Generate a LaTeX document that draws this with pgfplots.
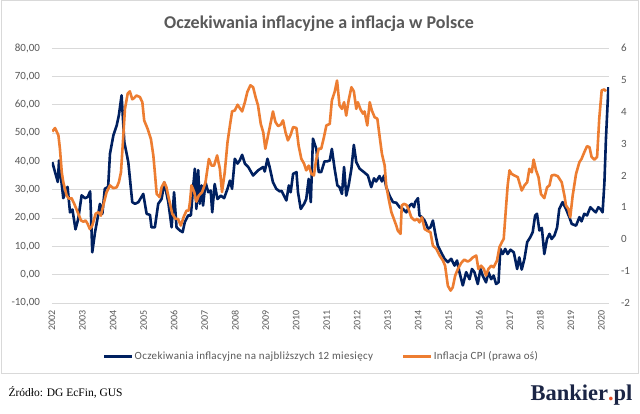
\documentclass[border=0pt]{standalone}
\usepackage{pgfplots}
\pgfplotsset{compat=1.18}
\usepackage{fontspec}
\setmainfont{Carlito}
\newfontfamily\timesf{Liberation Serif}
\newfontfamily\legfont[LetterSpace=3]{Carlito}
\definecolor{navyline}{HTML}{002060}
\definecolor{orangeline}{HTML}{ED7D31}
\definecolor{tickgray}{HTML}{595959}
\definecolor{gridgray}{HTML}{D9D9D9}
\definecolor{bankiernavy}{HTML}{1B2545}
\definecolor{bankierdot}{HTML}{E8502A}

\pgfplotstableread{
t v
2002.01 39.7
2002.19 32.7
2002.23 40.3
2002.37 27
2002.51 31
2002.59 22
2002.67 23
2002.77 16
2002.86 19.7
2002.97 28
2003.08 27
2003.17 27.4
2003.25 29.4
2003.32 7.9
2003.41 15
2003.49 19.7
2003.57 25
2003.65 21.5
2003.73 30.3
2003.84 31
2003.90 42.7
2004.01 49.1
2004.12 52.7
2004.19 56.2
2004.28 63.3
2004.37 46.8
2004.50 39.7
2004.63 25.6
2004.72 25
2004.83 25.6
2004.99 28.5
2005.10 21.5
2005.21 21.1
2005.26 16.7
2005.37 16.7
2005.48 25
2005.59 26.7
2005.68 32.6
2005.81 25.6
2005.92 16.7
2006.00 29.1
2006.08 16.7
2006.19 15.6
2006.28 15
2006.35 18.5
2006.46 20.9
2006.55 20.9
2006.63 31.5
2006.68 37.4
2006.73 23.2
2006.79 36.9
2006.84 25
2006.90 31.5
2006.95 24.4
2007.03 32.6
2007.12 29.1
2007.20 29.7
2007.25 22
2007.33 32
2007.42 26.7
2007.53 27.9
2007.64 27
2007.75 30.3
2007.83 33.2
2007.90 30.3
2007.99 40.9
2008.08 39.2
2008.15 40.3
2008.23 42.3
2008.32 39.2
2008.43 38
2008.59 35
2008.75 36.8
2008.92 38
2008.97 36.4
2009.06 40.9
2009.13 38
2009.24 32.6
2009.35 30.3
2009.46 29.4
2009.52 29.6
2009.68 26.2
2009.76 31.5
2009.82 29.1
2009.90 35.6
2010.01 36.2
2010.06 29.1
2010.15 23.2
2010.26 25
2010.33 26.7
2010.41 33.8
2010.48 25.6
2010.55 48
2010.66 44.4
2010.74 36.2
2010.82 36.2
2010.93 40
2011.02 40
2011.10 40.3
2011.17 44.4
2011.26 37.4
2011.35 31.5
2011.42 30.9
2011.50 28.5
2011.57 38
2011.64 27.9
2011.72 31.5
2011.81 37.4
2011.89 45.8
2011.97 39.7
2012.08 37.4
2012.22 36.2
2012.35 35
2012.46 30.9
2012.55 34
2012.62 32.9
2012.73 34.8
2012.81 32.9
2012.88 35
2012.95 30.9
2013.06 27.9
2013.17 25.6
2013.28 25.4
2013.39 23.8
2013.50 23.2
2013.61 22
2013.72 24.4
2013.79 25
2013.86 23.8
2013.90 25.6
2013.99 27
2014.04 20.9
2014.12 20.3
2014.21 19.1
2014.32 16.2
2014.40 16.7
2014.48 19.1
2014.57 13.8
2014.64 10.3
2014.75 7.9
2014.86 5.6
2014.97 4.4
2015.08 5.6
2015.19 3.2
2015.27 5
2015.35 0.9
2015.46 -3.8
2015.57 0.9
2015.68 -1.6
2015.76 2
2015.84 0.9
2015.95 -3.3
2016.04 2
2016.11 -0.3
2016.22 -2.7
2016.30 0.9
2016.39 -1.6
2016.47 -0.3
2016.55 -3.3
2016.63 -2.7
2016.69 9.1
2016.77 7.3
2016.85 9.1
2016.93 7.3
2017.02 8.8
2017.13 7.9
2017.24 2
2017.31 6.1
2017.39 1.8
2017.48 5.6
2017.57 11.5
2017.67 13.2
2017.75 15
2017.83 20.9
2017.89 21.5
2017.97 15.6
2018.05 16.5
2018.13 7.3
2018.22 12.6
2018.30 14.4
2018.37 12.6
2018.46 13.8
2018.55 16.7
2018.62 23.2
2018.73 25.6
2018.84 23.2
2018.95 20.3
2019.03 17.9
2019.17 17.3
2019.28 20.3
2019.35 18.8
2019.44 21.5
2019.53 20.9
2019.64 23.8
2019.75 22.6
2019.82 22
2019.90 23.8
2019.97 23.2
2020.04 22
2020.10 32.6
2020.15 48
2020.23 66.2
}\expectations

\pgfplotstableread{
t v
2002.01 3.38
2002.10 3.49
2002.21 3.26
2002.26 2.84
2002.32 2.1
2002.37 1.79
2002.48 1.37
2002.56 1.27
2002.64 1.29
2002.73 1.11
2002.84 0.85
2002.95 0.59
2003.03 0.55
2003.10 0.59
2003.17 0.48
2003.24 0.32
2003.32 0.43
2003.43 0.8
2003.52 0.85
2003.60 0.74
2003.68 1.06
2003.79 1.48
2003.90 1.69
2004.01 1.6
2004.12 1.63
2004.19 1.79
2004.26 2.1
2004.33 3.15
2004.39 4.09
2004.48 4.57
2004.55 4.64
2004.63 4.39
2004.69 4.43
2004.77 4.51
2004.88 4.46
2004.96 4.3
2005.02 3.73
2005.13 3.47
2005.24 3.15
2005.32 2.63
2005.37 2.1
2005.43 1.42
2005.53 1.32
2005.59 1.63
2005.68 1.79
2005.75 1.63
2005.83 1.27
2005.94 0.8
2006.05 0.64
2006.13 0.64
2006.22 0.43
2006.33 0.74
2006.41 0.9
2006.48 0.9
2006.52 1.16
2006.57 1.69
2006.66 1.48
2006.73 1.18
2006.81 1.37
2006.92 1.48
2007.03 1.79
2007.14 2.52
2007.23 2.31
2007.31 2.31
2007.41 2.63
2007.50 2.21
2007.57 1.48
2007.66 2.1
2007.75 3.04
2007.83 3.57
2007.90 4.01
2007.99 4.04
2008.08 4.22
2008.15 4.12
2008.23 4.01
2008.32 4.3
2008.40 4.62
2008.50 4.83
2008.59 4.77
2008.67 4.46
2008.75 4.2
2008.84 3.62
2008.92 3.36
2008.99 2.84
2009.08 3.26
2009.17 3.68
2009.24 4.01
2009.32 3.68
2009.41 3.55
2009.49 3.59
2009.57 3.73
2009.65 3.36
2009.73 3.1
2009.82 3.28
2009.90 3.52
2010.01 3.49
2010.08 2.94
2010.17 2.52
2010.26 2.37
2010.33 2.16
2010.41 2.31
2010.50 2.05
2010.58 2.0
2010.66 2.52
2010.74 2.84
2010.82 2.84
2010.91 3.2
2010.99 3.57
2011.10 3.62
2011.17 4.36
2011.26 4.62
2011.34 4.98
2011.42 4.2
2011.50 4.09
2011.57 4.3
2011.64 3.88
2011.72 4.36
2011.81 4.77
2011.89 4.64
2011.97 4.09
2012.02 4.3
2012.11 4.07
2012.19 3.94
2012.24 4.01
2012.33 3.57
2012.41 4.3
2012.48 4.04
2012.57 3.83
2012.66 3.78
2012.73 3.26
2012.81 2.68
2012.90 2.31
2012.95 1.69
2013.03 1.27
2013.12 0.85
2013.20 0.64
2013.28 0.43
2013.33 0.27
2013.42 0.17
2013.46 1.06
2013.53 1.11
2013.61 1.08
2013.68 0.95
2013.77 0.69
2013.88 0.59
2013.97 0.64
2014.04 0.53
2014.12 0.69
2014.21 0.32
2014.29 0.27
2014.40 0.22
2014.48 -0.2
2014.59 -0.3
2014.70 -0.51
2014.81 -0.67
2014.88 -0.83
2014.97 -1.46
2015.06 -1.61
2015.13 -1.51
2015.21 -1.14
2015.30 -0.93
2015.41 -0.74
2015.51 -0.64
2015.62 -0.7
2015.68 -0.67
2015.79 -0.57
2015.90 -0.51
2015.97 -0.93
2016.06 -0.83
2016.15 -0.93
2016.22 -1.14
2016.30 -0.93
2016.39 -0.83
2016.47 -0.88
2016.58 -0.67
2016.66 -0.25
2016.74 -0.09
2016.80 0.01
2016.88 1.06
2016.93 1.69
2016.99 2.16
2017.06 2.05
2017.15 2.0
2017.26 1.95
2017.39 1.53
2017.48 1.69
2017.57 1.79
2017.64 2.21
2017.72 2.1
2017.78 2.5
2017.86 2.16
2017.94 1.95
2018.02 1.42
2018.13 1.29
2018.22 1.63
2018.30 1.69
2018.37 2.0
2018.46 2.02
2018.57 1.98
2018.70 1.79
2018.79 1.37
2018.84 1.06
2018.92 0.95
2018.98 0.69
2019.06 1.37
2019.17 2.05
2019.28 2.42
2019.35 2.52
2019.44 2.73
2019.53 2.92
2019.61 2.89
2019.68 2.58
2019.77 2.5
2019.86 2.58
2019.93 3.78
2020.01 4.67
2020.10 4.7
2020.15 4.64
}\cpi

\begin{document}
\begin{tikzpicture}[x=1pt,y=1pt]
\useasboundingbox[fill=white] (0,0) rectangle (640,413);
\draw[gridgray, line width=1pt] (1,40) rectangle (638.5,412);

\node[anchor=base, font=\bfseries\fontsize{18}{21}\selectfont, text=tickgray] at (319,384) {Oczekiwania inflacyjne a inflacja w Polsce};

\begin{axis}[
  at={(52pt,110pt)}, anchor=south west, scale only axis,
  width=557pt, height=255pt,
  xmin=2002, xmax=2020.25, ymin=-10, ymax=80,
  xtick={2002,2003,...,2020},
  ytick={-10,0,...,80},
  ymajorgrids, grid style={draw=gridgray, line width=1pt},
  axis line style={draw=none}, major tick length=0pt,
  /pgf/number format/assume math mode=true,
  xticklabel style={rotate=90, anchor=east, font=\fontsize{10}{12}\selectfont, text=tickgray, /pgf/number format/1000 sep={}},
  xticklabel shift=3.5pt,
  yticklabel style={font=\fontsize{11}{12}\selectfont, text=tickgray, /pgf/number format/.cd, fixed, fixed zerofill, precision=2, use comma, 1000 sep={}},
  yticklabel shift=8.5pt,
]
\addplot[navyline, line width=2.6pt, line join=round] table[x=t, y=v] {\expectations};
\end{axis}

\begin{axis}[
  at={(52pt,110pt)}, anchor=south west, scale only axis,
  width=557pt, height=255pt,
  xmin=2002, xmax=2020.25, ymin=-2, ymax=6,
  axis x line=none, axis y line*=right,
  ytick={-2,-1,...,6},
  axis line style={draw=none}, major tick length=0pt,
  /pgf/number format/assume math mode=true,
  yticklabel style={font=\fontsize{11}{12}\selectfont, text=tickgray},
  yticklabel shift=8.5pt,
  legend style={at={(0.483,-0.21)}, anchor=center, draw=none, fill=none,
    font=\legfont\fontsize{11}{12}\selectfont, text=tickgray, inner sep=0pt,
    nodes={inner sep=1pt},
    /tikz/every even column/.append style={column sep=28pt}},
  legend columns=2,
  legend image code/.code={\draw[#1] (0pt,0pt) -- (28pt,0pt);},
]
\addlegendimage{navyline, line width=2.6pt}
\addlegendentry{Oczekiwania inflacyjne na najbliższych 12 miesięcy}
\addplot[orangeline, line width=2.6pt, line join=round] table[x=t, y=v] {\cpi};
\addlegendentry{Inflacja CPI (prawa oś)}
\end{axis}

\node[anchor=base west, font=\timesf\fontsize{11.5}{13}\selectfont] at (5,17) {Źródło: DG EcFin, GUS};
\node[anchor=base east, font=\timesf\bfseries\fontsize{22.5}{24}\selectfont, text=bankiernavy] at (636,13) {Bankier\textcolor{bankierdot}{.}pl};
\end{tikzpicture}
\end{document}
